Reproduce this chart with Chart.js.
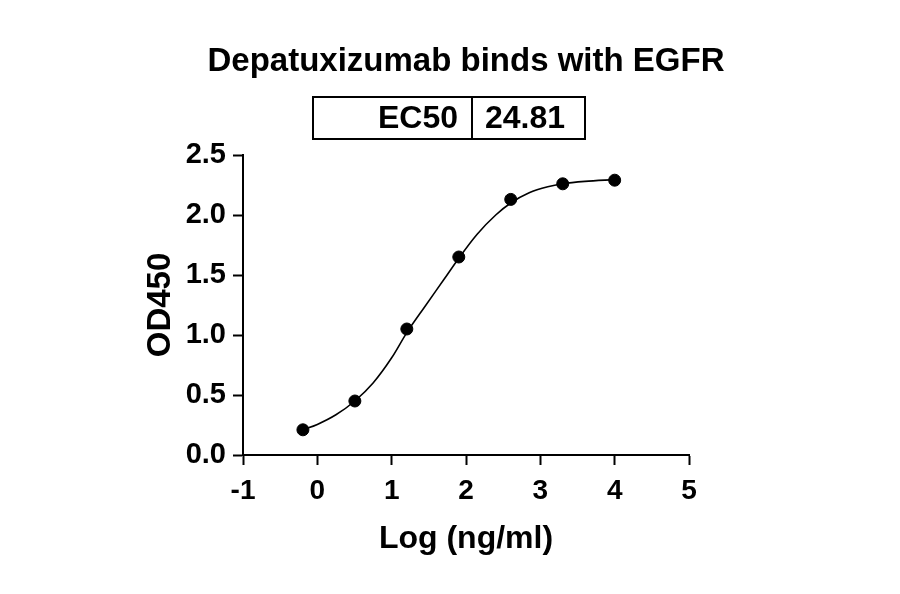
<!DOCTYPE html>
<html>
<head>
<meta charset="utf-8">
<script src="https://cdn.jsdelivr.net/npm/chart.js@4/dist/chart.umd.min.js"></script>
<style>
  html, body { margin: 0; background: #fff; }
  #wrap { width: 900px; height: 594px; }
</style>
</head>
<body>
<div id="wrap"><canvas id="chart"></canvas></div>
<script>
// measured points (5-fold dilution from 10000 ng/ml)
const logConc = [-0.194, 0.505, 1.204, 1.903, 2.602, 3.301, 4.0];
const od450 = [0.21, 0.45, 1.05, 1.65, 2.13, 2.26, 2.29];

// fitted curve
const fitX = [-0.194, 0.0, 0.25, 0.505, 0.75, 1.0, 1.204, 1.45, 1.7, 1.903, 2.15, 2.4, 2.602, 2.85, 3.1, 3.301, 3.6, 4.0];
const fitY = [0.21, 0.255, 0.335, 0.45, 0.60, 0.81, 1.02, 1.24, 1.46, 1.64, 1.84, 2.00, 2.10, 2.185, 2.235, 2.26, 2.28, 2.295];

const xTicks = [-1, 0, 1, 2, 3, 4, 5];
const yTicks = [0, 0.5, 1, 1.5, 2, 2.5];

const chartTitle = 'Depatuxizumab binds with EGFR';
const ec50Label = 'EC50';
const ec50Value = '24.81';
const xTitle = 'Log (ng/ml)';
const yTitle = 'OD450';

const FONT = '"Liberation Sans", Arial, sans-serif';

const toXY = (xs, ys) => xs.map((x, i) => ({ x, y: ys[i] }));

// title + EC50 table above the plot
const headerPlugin = {
  id: 'header',
  afterDraw(chart) {
    const { ctx, chartArea } = chart;
    const cx = (chartArea.left + chartArea.right) / 2;
    ctx.save();
    ctx.fillStyle = '#000';
    ctx.font = `bold 33px ${FONT}`;
    ctx.textAlign = 'center';
    ctx.textBaseline = 'middle';
    ctx.fillText(chartTitle, cx, 62);

    ctx.strokeStyle = '#000';
    ctx.lineWidth = 2;
    ctx.strokeRect(313, 97, 272, 42);
    ctx.beginPath();
    ctx.moveTo(472, 97);
    ctx.lineTo(472, 139);
    ctx.stroke();

    ctx.font = `bold 32px ${FONT}`;
    ctx.textAlign = 'right';
    ctx.fillText(ec50Label, 458, 119);
    ctx.textAlign = 'left';
    ctx.fillText(ec50Value, 485, 119);
    ctx.restore();
  },
};

const axisStyle = (min, max, step, title, fmt) => ({
  type: 'linear',
  min,
  max,
  ticks: {
    stepSize: step,
    color: '#000',
    font: { family: FONT, size: 28, weight: 'bold' },
    padding: 7,
    callback: fmt,
  },
  grid: {
    display: true,
    drawOnChartArea: false,
    drawTicks: true,
    tickLength: 10,
    tickWidth: 2,
    tickColor: '#000',
  },
  border: { display: true, color: '#000', width: 2 },
  title: {
    display: true,
    text: title,
    color: '#000',
    font: { family: FONT, size: 32, weight: 'bold' },
    padding: 0,
  },
});

const xScale = axisStyle(xTicks[0], xTicks[xTicks.length - 1], 1, xTitle, v => String(v));
xScale.ticks.padding = 9;
xScale.afterFit = s => { s.height = 103; };

const yScale = axisStyle(yTicks[0], yTicks[yTicks.length - 1], 0.5, yTitle, v => v.toFixed(1));
yScale.ticks.font.size = 29;
yScale.title.font.size = 33;
yScale.afterFit = s => { s.width = 102; };

new Chart(document.getElementById('chart'), {
  type: 'scatter',
  data: {
    datasets: [
      {
        label: 'fit',
        data: toXY(fitX, fitY),
        showLine: true,
        borderColor: '#000',
        borderWidth: 1.6,
        pointRadius: 0,
        cubicInterpolationMode: 'monotone',
        order: 2,
      },
      {
        label: 'OD450',
        data: toXY(logConc, od450),
        backgroundColor: '#000',
        borderColor: '#000',
        pointRadius: 6,
        order: 1,
      },
    ],
  },
  options: {
    responsive: true,
    maintainAspectRatio: false,
    animation: false,
    layout: { padding: { left: 141, right: 211, top: 155, bottom: 36 } },
    plugins: {
      legend: { display: false },
      tooltip: { enabled: false },
    },
    scales: { x: xScale, y: yScale },
  },
  plugins: [headerPlugin],
});
</script>
</body>
</html>
